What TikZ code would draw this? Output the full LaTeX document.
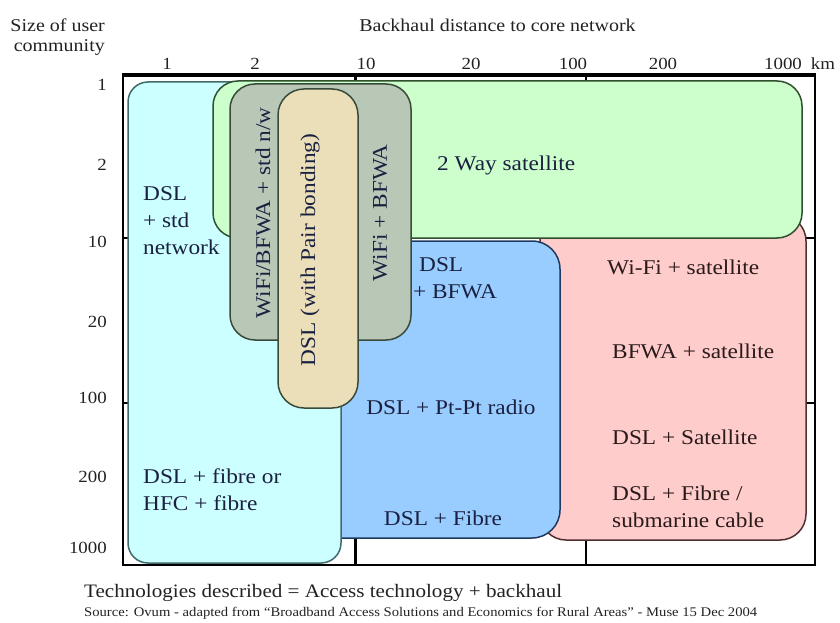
\documentclass[tikz,border=0pt]{standalone}
\usepackage{fontspec}
\setmainfont[FakeStretch=1.11]{Liberation Serif}
\definecolor{cyanfill}{HTML}{CCFFFF}
\definecolor{cyanedge}{HTML}{3F6A6A}
\definecolor{greenfill}{HTML}{CCFFCC}
\definecolor{greenedge}{HTML}{2F4F2F}
\definecolor{grayfill}{HTML}{B9C7B7}
\definecolor{grayedge}{HTML}{3A4A3A}
\definecolor{tanfill}{HTML}{EADFB8}
\definecolor{tanedge}{HTML}{3A4A3A}
\definecolor{bluefill}{HTML}{99CCFF}
\definecolor{blueedge}{HTML}{1F3A5F}
\definecolor{pinkfill}{HTML}{FFCCCC}
\definecolor{pinkedge}{HTML}{4F2F2F}
\definecolor{boxtext}{HTML}{1A2040}
\definecolor{pinktext}{HTML}{2A1A1A}
\definecolor{axistext}{HTML}{222222}
\tikzset{
  region/.style={line width=1.5pt, rounded corners=#1},
  boxlabel/.style={inner sep=0pt, text=boxtext, font=\fontsize{21}{27}\selectfont},
  pinklabel/.style={boxlabel, text=pinktext, anchor=west, align=left},
  axisnum/.style={inner sep=0pt, text=axistext, font=\fontsize{17}{20}\selectfont},
  axistitle/.style={inner sep=0pt, text=axistext, font=\fontsize{18}{22}\selectfont},
  gridline/.style={black, line width=2pt},
}
\begin{document}
\begin{tikzpicture}[x=1pt, y=-1pt]
\useasboundingbox[fill=white] (0,0) rectangle (840,623);

% grid lines behind the regions
\draw[gridline, line width=3pt] (355,75) -- (355,565);
\draw[gridline] (586,75) -- (586,565);
\draw[gridline] (123,238) -- (815,238);
\draw[gridline] (123,403) -- (815,403);

% regions
\path[region=26, fill=pinkfill, draw=pinkedge] (540,215) rectangle (806,540);
\path[region=28, fill=bluefill, draw=blueedge] (300,241) rectangle (560,538);
\path[region=20, fill=cyanfill, draw=cyanedge] (128,82) rectangle (341,563);
\path[region=25, fill=greenfill, draw=greenedge] (213,81) rectangle (802,238);
\path[region=25, fill=grayfill, draw=grayedge] (230,84) rectangle (411,340);
\path[region=26, fill=tanfill, draw=tanedge] (278,89) rectangle (358,408);

% frame
\draw[black, line width=2.5pt] (123,75) rectangle (815,565);
\draw[black, line width=4pt] (121.75,75) -- (816.25,75);

% region labels
\node[boxlabel, anchor=west, align=left] (dslstd) at (143,220.5) {DSL\\+ std\\network};
\node[boxlabel, anchor=west] (sat) at (437,165) {2 Way satellite};
\node[boxlabel, rotate=90] (wifistd) at (263,213) {WiFi/BFWA + std n/w};
\node[boxlabel, rotate=90] (pair) at (310,250) {DSL (with Pair bonding)};
\node[boxlabel, rotate=90] (wifibfwa) at (380,213) {WiFi + BFWA};
\node[boxlabel, anchor=west, align=left] (dslbfwa) at (413,278.5) {\hspace*{6pt}DSL\\+ BFWA};
\node[boxlabel] (ptpt) at (451,407) {DSL + Pt-Pt radio};
\node[boxlabel] (dslfibre) at (443,518) {DSL + Fibre};
\node[boxlabel, anchor=west, align=left] (hfc) at (143,489.5) {DSL + fibre or\\HFC + fibre};
\node[pinklabel] (wifisat) at (607,267) {Wi-Fi + satellite};
\node[pinklabel] (bfwasat) at (612,351) {BFWA + satellite};
\node[pinklabel] (dslsat) at (612,437) {DSL + Satellite};
\node[pinklabel] (submarine) at (612,506.5) {DSL + Fibre /\\submarine cable};

% axis titles
\node[axistitle] (xtitle) at (497.5,25) {Backhaul distance to core network};
\node[axistitle, anchor=east] (ytitle1) at (105,25) {Size of user};
\node[axistitle, anchor=east] (ytitle2) at (105,47) {community};

% top axis numbers
\node[axisnum] (k1) at (167,64) {1};
\node[axisnum] (k2) at (255,64) {2};
\node[axisnum] (k10) at (366,64) {10};
\node[axisnum] (k20) at (471,64) {20};
\node[axisnum] (k100) at (573,64) {100};
\node[axisnum] (k200) at (663,64) {200};
\node[axisnum] (k1000) at (783,64) {1000};
\node[axisnum] (km) at (823,64) {km};

% left axis numbers
\node[axisnum, anchor=east] (u1) at (107,85) {1};
\node[axisnum, anchor=east] (u2) at (107,165) {2};
\node[axisnum, anchor=east] (u10) at (107,242) {10};
\node[axisnum, anchor=east] (u20) at (107,322) {20};
\node[axisnum, anchor=east] (u100) at (107,398) {100};
\node[axisnum, anchor=east] (u200) at (107,477) {200};
\node[axisnum, anchor=east] (u1000) at (107,548) {1000};

% footer
\node[inner sep=0pt, anchor=west, text=axistext, font=\fontsize{19}{22}\selectfont] (tech) at (84,593)
  {Technologies described = Access technology + backhaul};
\node[inner sep=0pt, anchor=west, text=axistext, font=\fontsize{13.2}{15}\selectfont] (source) at (84,613)
  {Source: Ovum - adapted from “Broadband Access Solutions and Economics for Rural Areas” - Muse 15 Dec 2004};
\end{tikzpicture}
\end{document}
